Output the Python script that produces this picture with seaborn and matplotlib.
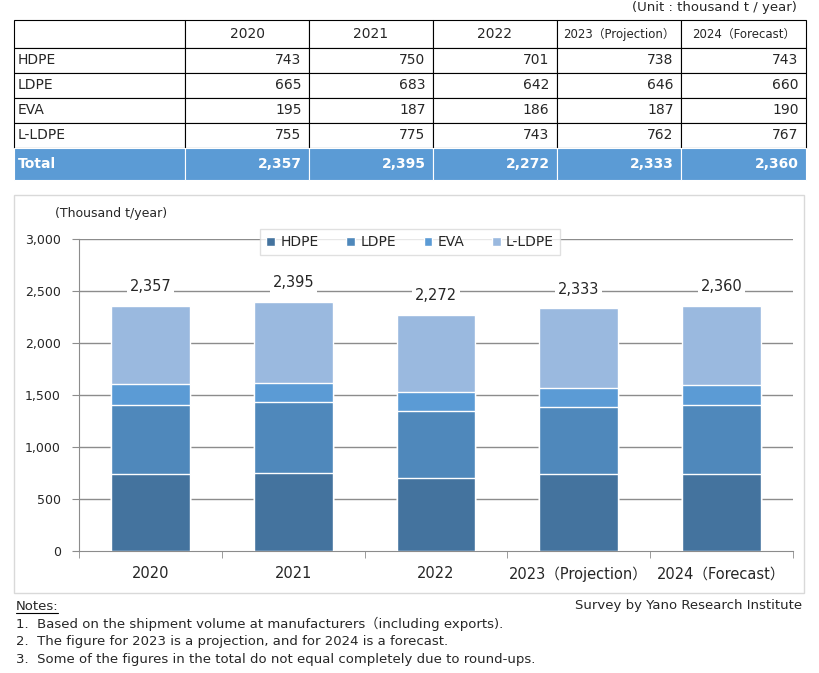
import numpy as np
import pandas as pd
import matplotlib
matplotlib.use('Agg')
import matplotlib.pyplot as plt
from matplotlib.patches import Patch, Rectangle
import seaborn as sns

# dados
anos = ['2020', '2021', '2022', '2023（Projection）', '2024（Forecast）']
produtos = ['HDPE', 'LDPE', 'EVA', 'L-LDPE']
hdpe = [743, 750, 701, 738, 743]
ldpe = [665, 683, 642, 646, 660]
eva = [195, 187, 186, 187, 190]
lldpe = [755, 775, 743, 762, 767]
total = [2357, 2395, 2272, 2333, 2360]
cores = ['#44739E', '#4F88BB', '#5B9BD5', '#9AB9DF']

sns.set_style('white')
plt.rcParams['font.family'] = ['DejaVu Sans', 'Noto Sans CJK JP']

W, H = 820, 673
fig = plt.figure(figsize=(W / 100, H / 100), dpi=100)

def fx(px):
    return px / W

def fy(py):
    return 1 - py / H

# ---- tabela ----
ax_t = fig.add_axes([fx(14), fy(180), fx(792), 160 / H])
ax_t.axis('off')
header = [''] + anos
linhas = [[p] + [str(v) for v in vals] for p, vals in zip(produtos, [hdpe, ldpe, eva, lldpe])]
linhas.append(['Total'] + [f'{v:,}' for v in total])
tab = ax_t.table(cellText=[header] + linhas, bbox=[0, 0, 1, 1], cellLoc='right')
tab.auto_set_font_size(False)
larguras = np.array([171, 124, 124, 124, 124, 125]) / 792
alturas = np.array([28, 25, 25, 25, 25, 32]) / 160
for (r, c), cell in tab.get_celld().items():
    cell.set_width(larguras[c])
    cell.set_height(alturas[r])
    cell.set_edgecolor('black')
    cell.set_linewidth(0.8)
    txt = cell.get_text()
    txt.set_fontsize(10)
    if c == 0:
        txt.set_ha('left')
        cell.PAD = 0.02
    else:
        cell.PAD = 0.06
    if r == 0:
        txt.set_ha('center')
        if c >= 4:
            txt.set_fontsize(8.5)
    if r == 5:
        cell.set_facecolor('#5B9BD5')
        cell.set_edgecolor('white')
        txt.set_color('white')
        txt.set_fontweight('bold')
fig.text(fx(797), fy(8), '(Unit : thousand t / year)', ha='right', va='center', fontsize=9.5)

# ---- moldura do gráfico ----
fig.patches.append(Rectangle((fx(14), fy(593)), fx(790), (593 - 195) / H, transform=fig.transFigure,
                             fill=False, edgecolor='#D9D9D9', linewidth=1))

ax = fig.add_axes([fx(79), fy(551), fx(714), 312 / H])
acum = np.cumsum(np.array([hdpe, ldpe, eva, lldpe]), axis=0)
for i in reversed(range(4)):
    sns.barplot(x=anos, y=acum[i], color=cores[i], saturation=1, width=0.553,
                edgecolor='white', linewidth=1, ax=ax)
for p in ax.patches:
    p.set_zorder(3)
    p.set_alpha(1)

# linhas de grade desenhadas à mão, atrás das barras
ticks_y = list(range(500, 3001, 500))
for v in ticks_y:
    ax.axhline(v, color='#8C8C8C', linewidth=1, zorder=1)
ax.grid(False)

for i, t in enumerate(total):
    ax.text(i, t + 185, f'{t:,}', ha='center', va='center', fontsize=10.5, zorder=5,
            bbox=dict(facecolor='white', edgecolor='none', pad=2))

ax.set_ylim(0, 3000)
ax.set_xlim(-0.5, 4.5)
ax.set_yticks(range(0, 3001, 500))
ax.set_yticklabels([f'{v:,}' for v in range(0, 3001, 500)], fontsize=9)
for s in ['top', 'right']:
    ax.spines[s].set_visible(False)
for s in ['left', 'bottom']:
    ax.spines[s].set_color('#8C8C8C')
ax.tick_params(axis='y', left=True, length=5, color='#8C8C8C', pad=8)
ax.set_xticks(range(5))
ax.set_xticklabels(anos, fontsize=10.5)
ax.set_xticks(np.arange(-0.5, 5, 1), minor=True)
ax.tick_params(axis='x', which='major', length=0, pad=11)
ax.tick_params(axis='x', which='minor', length=5, color='#8C8C8C', bottom=True)
ax.set_xlabel('')
ax.set_ylabel('')

fig.text(fx(55), fy(213), '(Thousand t/year)', ha='left', va='center', fontsize=9)

handles = [Patch(facecolor=c, label=p) for c, p in zip(cores, produtos)]
leg = ax.legend(handles=handles, loc='upper center', bbox_to_anchor=(0.464, 1.055), ncol=4,
                frameon=True, fontsize=10, handlelength=0.6, handleheight=0.6,
                columnspacing=2.0, handletextpad=0.4, borderpad=0.45, fancybox=False)
leg.get_frame().set_edgecolor('#D9D9D9')
leg.get_frame().set_linewidth(1)
leg.set_zorder(6)

# ---- notas ----
fig.text(fx(16), fy(606), 'Notes:', ha='left', va='center', fontsize=9.5)
fig.lines.append(plt.Line2D([fx(16), fx(58)], [fy(613), fy(613)], transform=fig.transFigure,
                            color='black', linewidth=0.8))
fig.text(fx(802), fy(606), 'Survey by Yano Research Institute', ha='right', va='center', fontsize=9.5)
notas = ['1.  Based on the shipment volume at manufacturers（including exports).',
         '2.  The figure for 2023 is a projection, and for 2024 is a forecast.',
         '3.  Some of the figures in the total do not equal completely due to round-ups.']
for k, n in enumerate(notas):
    fig.text(fx(16), fy(624 + 18 * k), n, ha='left', va='center', fontsize=9.5)

fig.savefig('out.png', dpi=100)
plt.close()
